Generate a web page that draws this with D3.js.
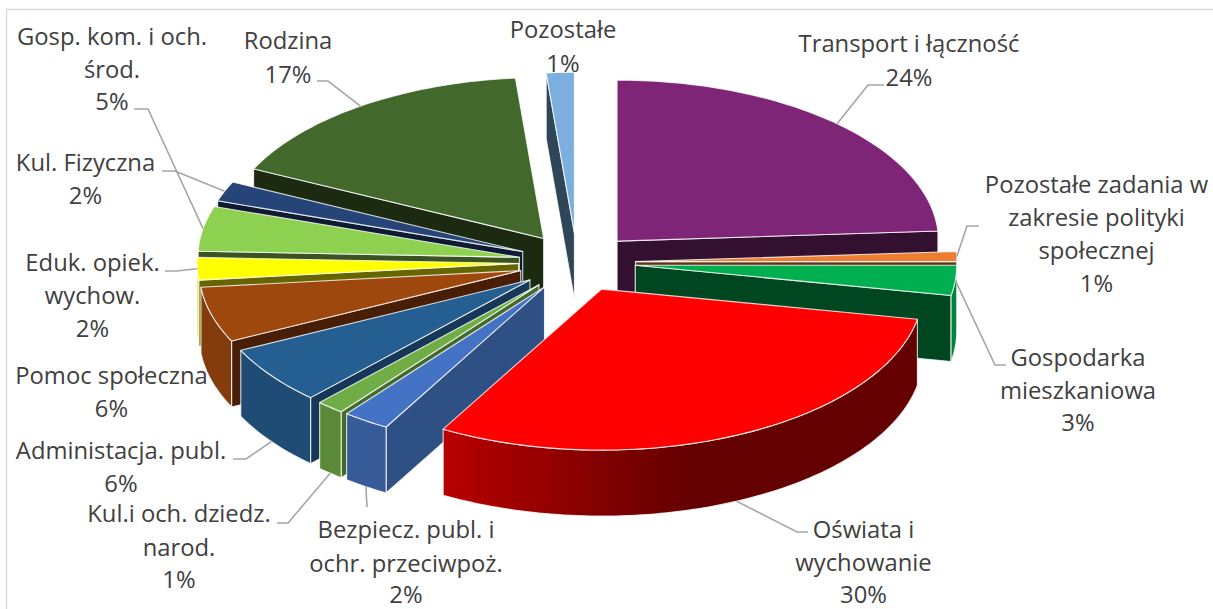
<!DOCTYPE html>
<html lang="pl">
<head>
    <meta charset="UTF-8">
    <title>Struktura wydatków</title>
    <script src="https://cdn.jsdelivr.net/npm/d3@7"></script>
    <style>
        html, body { margin: 0; background: #fff; overflow: hidden; }
        text {
            font-family: "Open Sans", sans-serif;
            font-size: 23.8px;
            fill: #404040;
            text-anchor: middle;
        }
        .face { stroke: #fff; stroke-opacity: .8; stroke-width: 1.1; stroke-linejoin: round; }
        .leader { fill: none; stroke: #a6a6a6; stroke-width: 1.6; }
    </style>
</head>
<body>
<svg width="1213" height="609"></svg>

<script>
    // Slices, clockwise from 12 o'clock
    const categories = [
        ["Transport i łączność"],
        ["Pozostałe zadania w", "zakresie polityki", "społecznej"],
        ["Gospodarka", "mieszkaniowa"],
        ["Oświata i", "wychowanie"],
        ["Bezpiecz. publ. i", "ochr. przeciwpoż."],
        ["Kul.i och. dziedz.", "narod."],
        ["Administacja. publ."],
        ["Pomoc społeczna"],
        ["Eduk. opiek.", "wychow."],
        ["Gosp. kom. i och.", "środ."],
        ["Kul. Fizyczna"],
        ["Rodzina"],
        ["Pozostałe"]
    ];
    const values = [24, 1, 3, 30.2, 2.35, 1.4, 5.85, 5.55, 2.25, 4.5, 2, 16.5, 1.4];

    const topColors  = ["#7f2578", "#ed7d31", "#00b050", "#ff0000", "#4472c4", "#70ad47", "#255e91", "#9e480e", "#ffff00", "#8ed04f", "#264478", "#43682b", "#7cafdd"];
    const wallColors = ["#5f1c5a", "#b25e25", "#00843c", "url(#redWall)", "#375a99", "#5a8a38", "#1e4c74", "#843c0c", "#dede00", "#72a840", "#1e3660", "#365322", "#638cb1"];
    const sideColors = ["#330f30", "#5f3214", "#004620", "#660000", "#2e5084", "#446a2b", "#163757", "#481e06", "#666600", "#3a5320", "#0f1b30", "#1b2a11", "#2f4558"];

    // Back-to-front painting order (indexes into categories)
    const paintOrder = [12, 0, 11, 1, 10, 2, 9, 8, 7, 6, 5, 4, 3];

    // label line positions: [centre x, first baseline, line step], percent baseline
    const labelLayout = [
        [909, 52, 34, 86],
        [1096.5, 193, 33, 292],
        [1078, 366, 32.5, 431],
        [863.5, 538, 33, 603],
        [406, 538, 34, 603],
        [179, 522, 34, 588],
        [121, 459, 33, 492],
        [111.5, 384, 33, 417],
        [92.5, 271, 33, 337],
        [112, 45, 33, 110],
        [85.5, 171, 33, 204],
        [288, 49, 34, 83],
        [563, 38, 34, 72]
    ];
    // leader bends after leaving the slice, null when the label has no leader
    const leaderBends = [
        [[868, 85], [884, 85]],
        [[967, 226], [979, 226]],
        [[995, 365], [1006, 365]],
        [[797, 532], [808, 532]],
        [[367, 507]],
        [[288, 523], [277, 523]],
        [[246, 459], [233, 459]],
        null,
        [[177, 271], [165, 271]],
        [[148, 109], [134, 109]],
        [[175, 171], [162, 171]],
        [[328, 81], [317, 81]],
        null
    ];

    const svg = d3.select("svg");
    const width = +svg.attr("width"), height = +svg.attr("height");

    const cx = 577, cy = 262.5;
    const rx = 321.5, ry = 161;
    const explode = 0.182;
    const depth = 66;

    const defs = svg.append("defs");
    const grad = defs.append("linearGradient").attr("id", "redWall")
        .attr("gradientUnits", "userSpaceOnUse")
        .attr("x1", 443).attr("x2", 690).attr("y1", 0).attr("y2", 0);
    grad.append("stop").attr("offset", 0).attr("stop-color", "#b80000");
    grad.append("stop").attr("offset", 1).attr("stop-color", "#640000");

    // chart frame runs off the window on the right and bottom
    svg.append("rect")
        .attr("x", 6.5).attr("y", 9.5)
        .attr("width", width + 20).attr("height", height + 20)
        .attr("fill", "#fff").attr("stroke", "#d9d9d9").attr("stroke-width", 1.5);

    const slices = d3.pie().sort(null).value(d => d)(values);
    const line = d3.line();

    function offset(a, r) {
        return [r * rx * Math.sin(a), -r * ry * Math.cos(a)];
    }

    function apex(s) {
        const mid = (s.startAngle + s.endAngle) / 2;
        const o = offset(mid, explode);
        return [cx + o[0], cy + o[1]];
    }

    function rimPoint(s, a, dy = 0) {
        const c = apex(s), o = offset(a, 1);
        return [c[0] + o[0], c[1] + o[1] + dy];
    }

    function rim(s, a0, a1, dy = 0) {
        const n = Math.max(2, Math.ceil((a1 - a0) / 0.02));
        return d3.range(n + 1).map(i => rimPoint(s, a0 + (a1 - a0) * i / n, dy));
    }

    function sideFace(s, a) {
        const c = apex(s), p = rimPoint(s, a);
        return [c, p, [p[0], p[1] + depth], [c[0], c[1] + depth]];
    }

    function drawSlice(i) {
        const s = slices[i];
        const g = svg.append("g");
        const addFace = (pts, fill) => g.append("path").attr("class", "face")
            .attr("d", line(pts) + "Z").attr("fill", fill);

        if (Math.sin(s.startAngle) < 0) addFace(sideFace(s, s.startAngle), sideColors[i]);
        if (Math.sin(s.endAngle) > 1e-6) addFace(sideFace(s, s.endAngle), sideColors[i]);

        // outer wall only where the rim faces the viewer
        const a0 = Math.max(s.startAngle, Math.PI / 2), a1 = Math.min(s.endAngle, 3 * Math.PI / 2);
        if (a1 > a0) {
            addFace(rim(s, a0, a1).concat(rim(s, a0, a1, depth).reverse()), wallColors[i]);
        }
        addFace([apex(s)].concat(rim(s, s.startAngle, s.endAngle)), topColors[i]);
    }

    paintOrder.forEach(drawSlice);

    // leaders start at the middle of the slice rim
    slices.forEach((s, i) => {
        if (!leaderBends[i]) return;
        const mid = (s.startAngle + s.endAngle) / 2;
        const front = Math.cos(mid) < -0.2;
        const start = rimPoint(s, mid, front ? depth : 0);
        svg.append("path").attr("class", "leader").attr("d", line([start].concat(leaderBends[i])));
    });

    // data labels
    slices.forEach((s, i) => {
        const [x, y0, step, yPct] = labelLayout[i];
        const t = svg.append("g");
        categories[i].forEach((txt, k) => {
            t.append("text").attr("x", x).attr("y", y0 + k * step).text(txt);
        });
        t.append("text").attr("x", x).attr("y", yPct).text(d3.format(".0f")(values[i]) + "%");
    });
</script>
</body>
</html>
